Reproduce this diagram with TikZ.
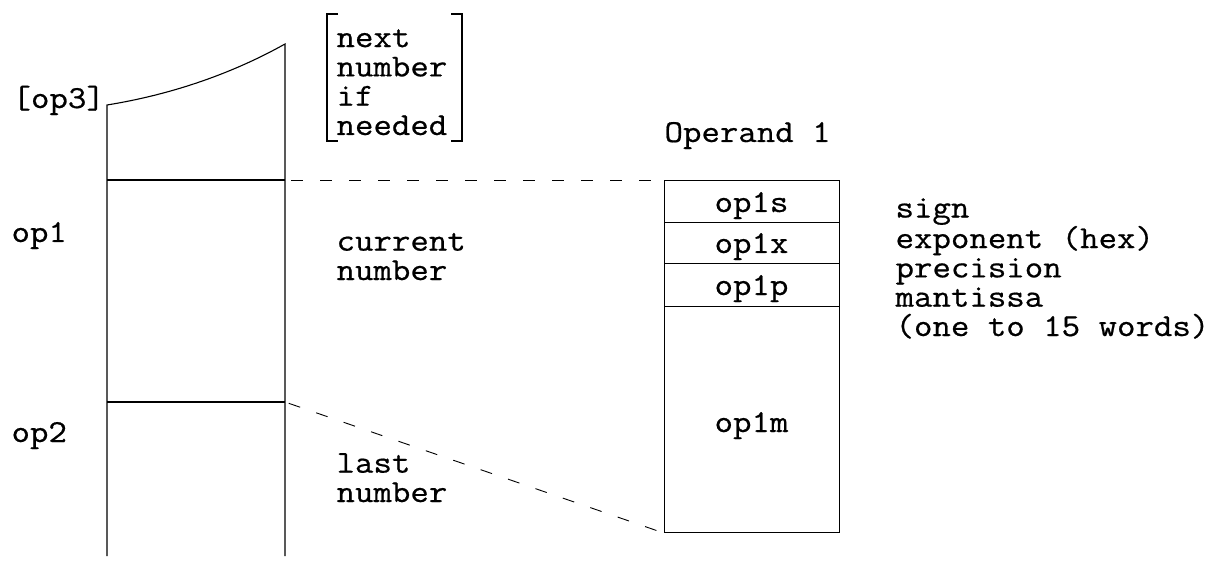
\documentclass[tikz,border=0pt]{standalone}
\usepackage{fontspec}
\setmonofont{Latin Modern Mono}[FakeStretch=1.12,FakeBold=0.6]
\begin{document}
\begin{tikzpicture}[x=1pt,y=-1pt,line width=1.1pt,
  lbl/.style={font=\ttfamily\fontsize{32}{29.3}\selectfont,inner sep=0pt,anchor=base west,align=left},
  clbl/.style={lbl,anchor=base},
  cell/.style={draw,rectangle,inner sep=0pt,anchor=north west,minimum width=175pt},
  dashline/.style={line width=0.9pt,dash pattern=on 12pt off 17pt}]
\useasboundingbox (0,0) rectangle (1220,561);
% left column
\coordinate (tl) at (107,105);
\coordinate (tr) at (285,44);
\coordinate (l1) at (107,180);
\coordinate (r1) at (285,180);
\coordinate (l2) at (107,402);
\coordinate (r2) at (285,402);
\coordinate (bl) at (107,556);
\coordinate (br) at (285,556);
\draw (bl) -- (tl) .. controls (175,94) and (235,72) .. (tr) -- (br);
\draw (l1) -- (r1);
\draw (l2) -- (r2);
% left labels (base = baseline of last line)
\node[lbl] (op3) at (12,108) {[op3]};
\node[lbl] (op1) at (11,242) {op1};
\node[lbl] (op2) at (11,442) {op2};
\node[lbl] (cur) at (336,280) {current\\number};
\node[lbl] (last) at (336,502) {last\\number};
% bracketed note
\node[lbl] (note) at (336,135) {next\\number\\if\\needed};
\draw (338,14) -- (327,14) -- (327,141) -- (338,141);
\draw (451,14) -- (462,14) -- (462,141) -- (451,141);
% operand box
\node[lbl] (opnd) at (664,142) {Operand 1};
\node[cell,minimum height=42pt] (cs) at (664,180) {};
\node[cell,minimum height=41pt] (cx) at (664,222) {};
\node[cell,minimum height=43pt] (cp) at (664,263) {};
\node[cell,minimum height=226pt] (cm) at (664,306) {};
\node[clbl] (ls) at (751.5,212) {op1s};
\node[clbl] (lx) at (751.5,253) {op1x};
\node[clbl] (lp) at (751.5,295) {op1p};
\node[clbl] (lm) at (751.5,432) {op1m};
% descriptions
\node[lbl] (desc) at (895,336) {sign\\exponent (hex)\\precision\\mantissa\\(one to 15 words)};
% dashed connectors
\draw[dashline,shorten <=6pt] (r1) -- (cs.north west);
\draw[dashline,shorten <=4pt] (r2) -- (cm.south west);
\end{tikzpicture}
\end{document}
